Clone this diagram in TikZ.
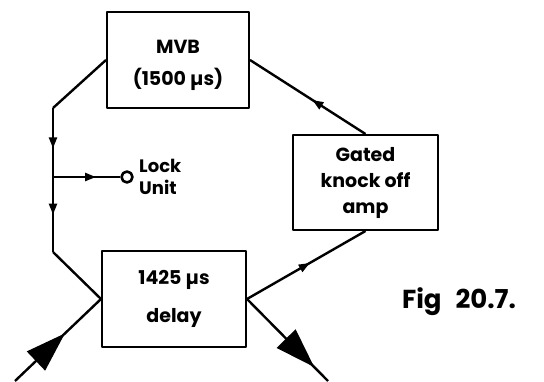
\documentclass[tikz,border=0pt]{standalone}
\usepackage{fontspec}
\setmainfont{Poppins}
\usetikzlibrary{arrows.meta,decorations.markings}

\begin{document}
\begin{tikzpicture}[
  x=1pt, y=-1pt, line width=2.4pt, line join=round,
  block/.style={rectangle, draw, line width=2pt, align=center,
    inner sep=0pt, font=\bfseries\fontsize{19}{26}\selectfont},
  flow/.style={postaction={decorate, decoration={markings,
    mark=at position #1 with {\arrow{Triangle[length=11pt,width=8pt]}}}}},
  bigflow/.style={postaction={decorate, decoration={markings,
    mark=at position #1 with {\arrow{Triangle[length=40pt,width=26pt]}}}}}]
  \useasboundingbox (0,0) rectangle (544,381);
  \node[block, minimum width=142pt, minimum height=96pt] (mvb) at (178,60)
    {\rule{0pt}{24pt}MVB\\[6pt](1500 µs)};
  \node[block, minimum width=144pt, minimum height=96pt] (delay) at (174,299)
    {1425 µs\\[12pt]delay};
  \node[block, minimum width=145pt, minimum height=95pt] (gko) at (365.5,182.5)
    {Gated\\knock off\\amp};
  \node[circle, draw, line width=2.6pt, minimum size=11pt, inner sep=0pt] (lock)
    at (127,177) {};
  \node[anchor=west, align=left, inner sep=0pt,
    font=\bfseries\fontsize{18}{22}\selectfont] (locktxt) at (138,177)
    {Lock\\Unit};
  \node[font=\bfseries\fontsize{26}{28}\selectfont] (fig) at (459,302)
    {Fig\hspace{14pt}20.7.};
  \coordinate (lt) at (53,108);
  \coordinate (lb) at (53,252);
  \coordinate (jn) at (53,177);
  \coordinate (in) at (15,381);
  \coordinate (out) at (328,381);
  % loop round the left side
  \draw (mvb.west) -- (lt);
  \draw[flow=0.28, flow=0.74] (lt) -- (lb);
  \draw (lb) -- (delay.west);
  \draw[flow=0.64] (jn) -- (lock.west);
  % feedback through the amp
  \draw[flow=0.53] (delay.east) -- (gko.south);
  \draw[flow=0.46] (gko.north) -- (mvb.east);
  % in and out
  \draw[bigflow=0.58] (in) -- (delay.west);
  \draw[bigflow=0.83] (delay.east) -- (out);
\end{tikzpicture}
\end{document}
